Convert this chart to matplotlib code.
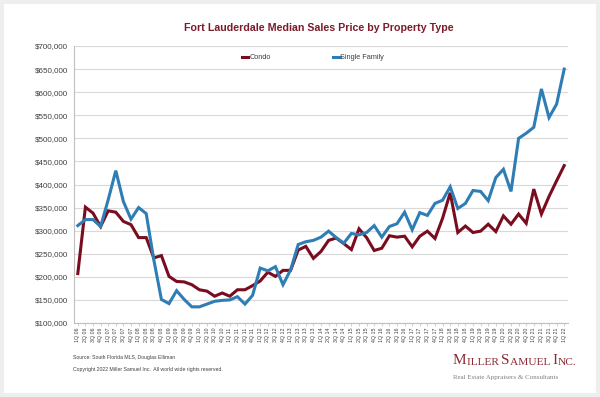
import matplotlib
matplotlib.use("Agg")
import matplotlib.pyplot as plt
from matplotlib.patches import Rectangle
from matplotlib.ticker import FuncFormatter, MultipleLocator

# ── Data (thousands of dollars, quarterly 1Q 06 .. 1Q 22) ────────────────────
quarters = [f"{q}Q {y:02d}" for y in range(6, 23) for q in range(1, 5)][:65]

condo = [207, 351, 338, 309, 343, 340, 320, 313, 285, 285,
         241, 246, 201, 190, 189, 183, 172, 169, 158, 165,
         158, 172, 172, 181, 191, 210, 201, 214, 214, 258,
         266, 240, 255, 279, 284, 272, 259, 304, 285, 257,
         262, 289, 286, 288, 265, 288, 299, 283, 327, 382,
         296, 310, 296, 299, 314, 298, 332, 314, 336, 316,
         390, 336, 374, 408, 441]

single_family = [311, 324, 324, 309, 367, 430, 363, 325, 350, 337,
                 237, 151, 142, 170, 151, 135, 135, 141, 147, 149,
                 150, 157, 141, 160, 219, 213, 222, 183, 215, 270,
                 276, 279, 286, 299, 285, 273, 294, 291, 296, 311,
                 286, 309, 315, 340, 302, 339, 333, 359, 366, 395,
                 348, 359, 387, 385, 365, 415, 433, 385, 500, 511,
                 524, 607, 545, 574, 650]

# ── Colours ──────────────────────────────────────────────────────────────────
COLOUR_CONDO = "#7a0c1f"
COLOUR_SF = "#2e7db5"
TITLE_RED = "#7b1c2c"
LOGO_RED = "#8a2a35"

plt.rcParams["font.family"] = ["Liberation Sans", "DejaVu Sans"]

fig = plt.figure(figsize=(6, 3.97), dpi=100, facecolor="#eeeeee")
fig.patches.append(Rectangle((4 / 600, 4 / 397), 592 / 600, 389 / 397,
                             transform=fig.transFigure, facecolor="white",
                             edgecolor="none", zorder=-10))

ax = fig.add_axes([74 / 600, 74 / 397, 494 / 600, 277 / 397])
ax.set_facecolor("white")

x = list(range(len(quarters)))
ax.plot(x, [v * 1000 for v in condo], color=COLOUR_CONDO, linewidth=2.2,
        label="Condo", solid_joinstyle="miter")
ax.plot(x, [v * 1000 for v in single_family], color=COLOUR_SF, linewidth=2.2,
        label="Single Family", solid_joinstyle="miter")

ax.set_xlim(-0.5, len(quarters) - 0.5)
ax.set_ylim(100000, 700000)
ax.yaxis.set_major_locator(MultipleLocator(50000))
ax.yaxis.set_major_formatter(FuncFormatter(lambda v, _: f"${v:,.0f}"))
ax.grid(axis="y", color="#d9d9d9", linewidth=0.8)
ax.set_axisbelow(True)

ax.set_xticks(x)
ax.set_xticklabels(quarters, rotation=90, fontsize=3.8, color="#404040")
ax.tick_params(axis="x", length=2, width=0.5, color="#bfbfbf", pad=1.5)
ax.tick_params(axis="y", length=0, labelsize=5.8, labelcolor="#404040", pad=4.5)

ax.spines[["top", "right"]].set_visible(False)
for side in ["left", "bottom"]:
    ax.spines[side].set_color("#bfbfbf")
    ax.spines[side].set_linewidth(0.8)

ax.legend(loc="center", bbox_to_anchor=(0.484, 0.957), ncol=2, frameon=False,
          fontsize=5.3, handlelength=0.9, handletextpad=0.1,
          columnspacing=8.5, labelcolor="#404040")

fig.text(319 / 600, 1 - 28 / 397, "Fort Lauderdale Median Sales Price by Property Type",
         ha="center", va="center", fontsize=7.7, fontweight="bold", color=TITLE_RED)

# ── Footer ───────────────────────────────────────────────────────────────────
fig.text(73 / 600, 1 - 357 / 397, "Source: South Florida MLS, Douglas Elliman",
         ha="left", va="center", fontsize=3.7, color="#404040")
fig.text(73 / 600, 1 - 369 / 397,
         "Copyright 2022 Miller Samuel Inc.  All world wide rights reserved.",
         ha="left", va="center", fontsize=3.7, color="#404040")

# small-caps logo: each piece is anchored to the right edge of the previous one
serif = ["Liberation Serif", "DejaVu Serif"]
logo_pieces = [("M", 11), ("ILLER ", 8.2), ("S", 11), ("AMUEL ", 8.2),
               ("I", 11), ("NC.", 8.2)]
prev = fig.text(453 / 600, 1 - 364 / 397, logo_pieces[0][0], ha="left",
                va="baseline", fontsize=logo_pieces[0][1], color=LOGO_RED,
                family=serif)
for txt, size in logo_pieces[1:]:
    prev = ax.annotate(txt, xy=(1, 0), xycoords=prev, ha="left", va="bottom",
                       fontsize=size, color=LOGO_RED, family=serif,
                       annotation_clip=False)

fig.text(453 / 600, 1 - 377 / 397, "Real Estate Appraisers & Consultants",
         ha="left", va="center", fontsize=5.0, color="#808080", family=serif)

fig.savefig("out.png", dpi=100, facecolor=fig.get_facecolor())
